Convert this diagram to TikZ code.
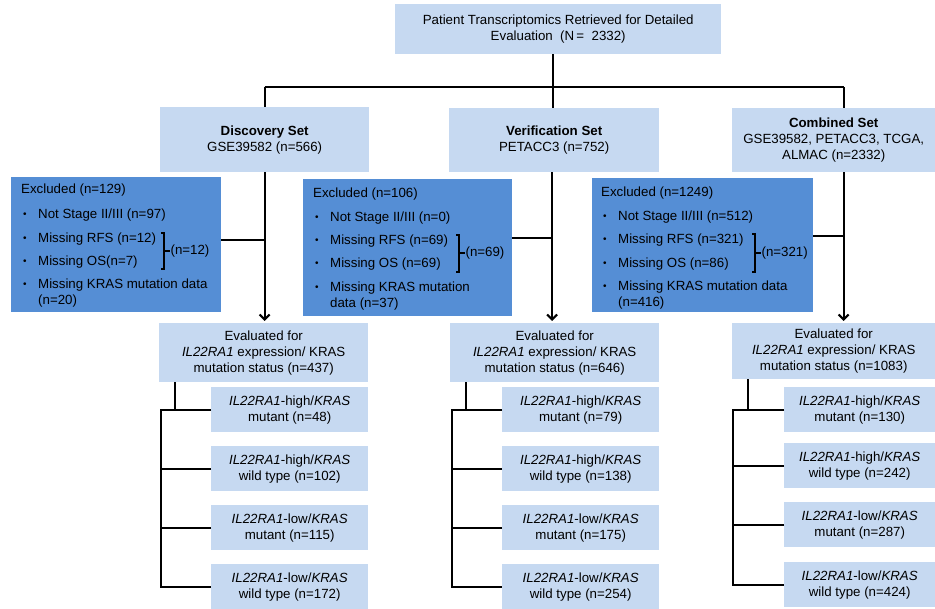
\documentclass[tikz,border=0pt]{standalone}
\usepackage{fontspec}
\setmainfont{Liberation Sans}
\usetikzlibrary{arrows.meta}

\definecolor{boxlight}{HTML}{C6D9F1}
\definecolor{boxdark}{HTML}{558ED5}

\begin{document}
\begin{tikzpicture}[x=1pt,y=-1pt,
    every node/.style={font=\fontsize{13.3}{16}\selectfont},
    lbox/.style={fill=boxlight, anchor=north west, inner sep=0pt, align=center},
    dbox/.style={fill=boxdark, anchor=north west, inner sep=0pt},
    txt/.style={anchor=base west, inner sep=0pt},
    bul/.style={txt, font=\fontsize{10}{10}\selectfont, yshift=1.5pt},
    conn/.style={line width=2.1pt},
    brk/.style={line width=1.2pt},
    arr/.style={-{Straight Barb[length=5pt,width=10pt]}, shorten >=2pt}]

  \useasboundingbox (0,0) rectangle (935,609);

  % top level
  \node[lbox, minimum width=326pt, minimum height=50pt] (top) at (395,4)
    {Patient Transcriptomics Retrieved for Detailed\\Evaluation\ \ (N\,=\ \ 2332)};

  % the three sets
  \node[lbox, minimum width=209pt, minimum height=65pt] (disc) at (160,107)
    {\textbf{Discovery Set}\\GSE39582 (n=566)};
  \node[lbox, minimum width=210pt, minimum height=64pt] (verif) at (449,108)
    {\textbf{Verification Set}\\PETACC3 (n=752)};
  \node[lbox, minimum width=203pt, minimum height=64pt] (comb) at (732,108)
    {\textbf{Combined Set}\\GSE39582, PETACC3, TCGA,\\ALMAC (n=2332)};
  \coordinate (dline) at (disc.south);
  \coordinate (vline) at ([xshift=-2pt]verif.south);
  \coordinate (cline) at ([xshift=10pt]comb.south);

  % excluded, discovery
  \node[dbox, minimum width=210pt, minimum height=135pt] (ex1) at (11,177) {};
  \node[txt] (ex1h) at (21,194) {Excluded (n=129)};
  \foreach \i/\yy/\tx in {1/219/{Not Stage II/III (n=97)}, 2/243/{Missing RFS (n=12)},
      3/266/{Missing OS(n=7)}, 4/289/{Missing KRAS mutation data}}{
    \node[bul] (ex1b\i) at (23,\yy) {\textbullet};
    \node[txt] (ex1i\i) at (38,\yy) {\tx};
  }
  \node[txt] (ex1w) at (38,305) {(n=20)};
  \draw[brk] (161,233) -| (164,269) -- (161,269);
  \draw[brk] (164,251) -- (170,251) node[txt, anchor=west] (ex1n) {(n=12)};

  % excluded, verification
  \node[dbox, minimum width=209pt, minimum height=137pt] (ex2) at (303,179) {};
  \node[txt] (ex2h) at (313,198) {Excluded (n=106)};
  \foreach \i/\yy/\tx in {1/222/{Not Stage II/III (n=0)}, 2/245/{Missing RFS (n=69)},
      3/268/{Missing OS (n=69)}, 4/292/{Missing KRAS mutation}}{
    \node[bul] (ex2b\i) at (315,\yy) {\textbullet};
    \node[txt] (ex2i\i) at (330,\yy) {\tx};
  }
  \node[txt] (ex2w) at (330,308) {data (n=37)};
  \draw[brk] (456,235) -| (459,272) -- (456,272);
  \draw[brk] (459,253) -- (465,253) node[txt, anchor=west] (ex2n) {(n=69)};

  % excluded, combined
  \node[dbox, minimum width=221pt, minimum height=134pt] (ex3) at (592,178) {};
  \node[txt] (ex3h) at (601,197) {Excluded (n=1249)};
  \foreach \i/\yy/\tx in {1/221/{Not Stage II/III (n=512)}, 2/244/{Missing RFS (n=321)},
      3/268/{Missing OS (n=86)}, 4/291/{Missing KRAS mutation data}}{
    \node[bul] (ex3b\i) at (603,\yy) {\textbullet};
    \node[txt] (ex3i\i) at (618,\yy) {\tx};
  }
  \node[txt] (ex3w) at (618,307) {(n=416)};
  \draw[brk] (752,234) -| (755,272) -- (752,272);
  \draw[brk] (755,253) -- (761,253) node[txt, anchor=west] (ex3n) {(n=321)};

  % evaluated
  \node[lbox, minimum width=209pt, minimum height=59pt] (ev1) at (159,323)
    {Evaluated for\\\textit{IL22RA1} expression/ KRAS\\mutation status (n=437)};
  \node[lbox, minimum width=209pt, minimum height=59pt] (ev2) at (450,323)
    {Evaluated for\\\textit{IL22RA1} expression/ KRAS\\mutation status (n=646)};
  \node[lbox, minimum width=203pt, minimum height=56pt] (ev3) at (732,323)
    {Evaluated for\\\textit{IL22RA1} expression/ KRAS\\mutation status (n=1083)};

  % subgroups
  \node[lbox, minimum width=157pt, minimum height=45pt] (s11) at (211,387)
    {\textit{IL22RA1}-high/\textit{KRAS}\\mutant (n=48)};
  \node[lbox, minimum width=157pt, minimum height=45pt] (s12) at (211,446)
    {\textit{IL22RA1}-high/\textit{KRAS}\\wild type (n=102)};
  \node[lbox, minimum width=157pt, minimum height=45pt] (s13) at (211,505)
    {\textit{IL22RA1}-low/\textit{KRAS}\\mutant (n=115)};
  \node[lbox, minimum width=157pt, minimum height=45pt] (s14) at (211,564)
    {\textit{IL22RA1}-low/\textit{KRAS}\\wild type (n=172)};

  \node[lbox, minimum width=157pt, minimum height=45pt] (s21) at (502,387)
    {\textit{IL22RA1}-high/\textit{KRAS}\\mutant (n=79)};
  \node[lbox, minimum width=157pt, minimum height=45pt] (s22) at (502,446)
    {\textit{IL22RA1}-high/\textit{KRAS}\\wild type (n=138)};
  \node[lbox, minimum width=157pt, minimum height=45pt] (s23) at (502,505)
    {\textit{IL22RA1}-low/\textit{KRAS}\\mutant (n=175)};
  \node[lbox, minimum width=157pt, minimum height=45pt] (s24) at (502,564)
    {\textit{IL22RA1}-low/\textit{KRAS}\\wild type (n=254)};

  \node[lbox, minimum width=151pt, minimum height=45pt] (s31) at (784,387)
    {\textit{IL22RA1}-high/\textit{KRAS}\\mutant (n=130)};
  \node[lbox, minimum width=151pt, minimum height=45pt] (s32) at (784,443)
    {\textit{IL22RA1}-high/\textit{KRAS}\\wild type (n=242)};
  \node[lbox, minimum width=151pt, minimum height=45pt] (s33) at (784,502)
    {\textit{IL22RA1}-low/\textit{KRAS}\\mutant (n=287)};
  \node[lbox, minimum width=151pt, minimum height=45pt] (s34) at (784,562)
    {\textit{IL22RA1}-low/\textit{KRAS}\\wild type (n=424)};

  % split from the top box
  \draw[conn] ([xshift=-5pt]top.south) -- ([xshift=-5pt,yshift=-33pt]top.south) coordinate (split);
  \draw[conn] (disc.north |- split) -- (cline |- split);
  \draw[conn] (disc.north |- split) -- (disc.north);
  \draw[conn] (split) -- (split |- verif.north);
  \draw[conn] (cline |- split) -- (cline |- comb.north);

  % sets to evaluated
  \draw[conn, arr] (dline) -- (dline |- ev1.north);
  \draw[conn, arr] (vline) -- (vline |- ev2.north);
  \draw[conn, arr] (cline) -- (cline |- ev3.north);

  % excluded
  \draw[conn] ([yshift=5pt]ex1.east) -- ([yshift=5pt]ex1.east -| dline);
  \draw[conn] ([yshift=10pt]ex2.east) -- ([yshift=10pt]ex2.east -| vline);
  \draw[conn] ([yshift=9pt]ex3.east) -- ([yshift=9pt]ex3.east -| cline);

  % trees
  \draw[conn] ([xshift=16pt]ev1.south west) -- ([xshift=16pt]ev1.south west |- s11.west);
  \draw[conn] (s11.west) -- ++(-50,0) |- (s14.west);
  \draw[conn] (s12.west) -- ++(-50,0);
  \draw[conn] (s13.west) -- ++(-50,0);

  \draw[conn] ([xshift=16pt]ev2.south west) -- ([xshift=16pt]ev2.south west |- s21.west);
  \draw[conn] (s21.west) -- ++(-50,0) |- (s24.west);
  \draw[conn] (s22.west) -- ++(-50,0);
  \draw[conn] (s23.west) -- ++(-50,0);

  \draw[conn] ([xshift=16pt]ev3.south west) -- ([xshift=16pt]ev3.south west |- s31.west);
  \draw[conn] (s31.west) -- ++(-51,0) |- (s34.west);
  \draw[conn] (s32.west) -- ++(-51,0);
  \draw[conn] (s33.west) -- ++(-51,0);

\end{tikzpicture}
\end{document}
